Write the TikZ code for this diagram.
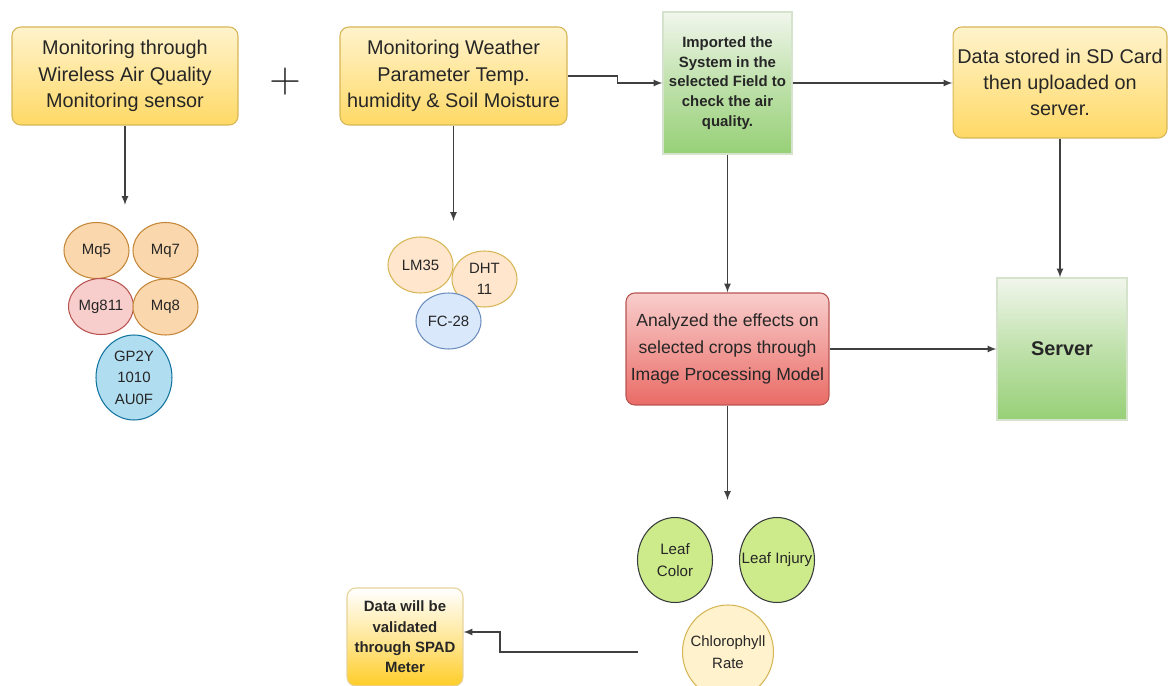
\documentclass[tikz,border=0pt]{standalone}
\usepackage{fontspec}
\setmainfont{Liberation Sans}
\usetikzlibrary{shapes.geometric,arrows}

\definecolor{yelTop}{HTML}{FFF3CC}
\definecolor{yelBot}{HTML}{FFD966}
\definecolor{yelLine}{HTML}{D6B656}
\definecolor{grnTop}{HTML}{F1F6EC}
\definecolor{grnBot}{HTML}{97D077}
\definecolor{grnLine}{HTML}{D5E3CC}
\definecolor{redTop}{HTML}{F8CECC}
\definecolor{redBot}{HTML}{EA6B66}
\definecolor{redLine}{HTML}{B85450}
\definecolor{orgFill}{HTML}{FAD7AC}
\definecolor{orgLine}{HTML}{C4873A}
\definecolor{pnkFill}{HTML}{F8CECC}
\definecolor{bluFill}{HTML}{B1DDF0}
\definecolor{bluLine}{HTML}{10739E}
\definecolor{lbFill}{HTML}{DAE8FC}
\definecolor{lbLine}{HTML}{6C8EBF}
\definecolor{pchFill}{HTML}{FFE6CC}
\definecolor{crmFill}{HTML}{FFF2CC}
\definecolor{leafFill}{HTML}{CDEB8B}
\definecolor{leafLine}{HTML}{36393D}
\definecolor{spadBot}{HTML}{FFCD28}

\begin{document}
\begin{tikzpicture}[x=0.02cm,y=-0.02cm,
        every node/.style={text=black!85},
        yelbox/.style={rectangle,rounded corners=5pt,draw=yelLine,line width=0.6pt,
            top color=yelTop,bottom color=yelBot,align=center,inner sep=0pt,
            font=\fontsize{11.3}{15}\selectfont},
        grnbox/.style={rectangle,draw=grnLine,line width=0.6pt,
            top color=grnTop,bottom color=grnBot,middle color=grnBot!55!grnTop,
            align=center,inner sep=0pt},
        redbox/.style={rectangle,rounded corners=5pt,draw=redLine,line width=0.6pt,
            top color=redTop,bottom color=redBot,align=center,inner sep=0pt,
            font=\fontsize{10}{15.3}\selectfont},
        sensor/.style={ellipse,draw,line width=0.6pt,inner sep=-0.25cm,align=center,
            minimum width=1.3cm,minimum height=1.12cm,
            font=\fontsize{8.5}{12.3}\selectfont},
        leaf/.style={ellipse,draw=leafLine,fill=leafFill,line width=0.6pt,inner sep=-0.25cm,
            align=center,minimum width=1.5cm,minimum height=1.7cm,
            font=\fontsize{8.6}{12.3}\selectfont},
        link/.style={draw=black!75,line width=0.75pt,-latex}]

    \useasboundingbox (0,0) rectangle (1171,686);

    % Top row
    \node[yelbox,minimum width=4.52cm,minimum height=1.96cm] (air) at (125,76)
        {Monitoring through\\Wireless Air Quality\\Monitoring sensor};
    \node[font=\fontsize{28}{28}\selectfont,inner sep=0pt] (plus) at (285,82) {$+$};
    \node[yelbox,minimum width=4.54cm,minimum height=1.96cm] (weather) at (453.5,76)
        {Monitoring Weather\\Parameter Temp.\\humidity \& Soil Moisture};
    \node[grnbox,minimum width=2.58cm,minimum height=2.84cm,
        font=\bfseries\fontsize{8.5}{11.3}\selectfont] (field) at (727.5,83)
        {Imported the\\System in the\\selected Field to\\check the air\\quality.};
    \node[yelbox,minimum width=4.28cm,minimum height=2.22cm] (sd) at (1060,82.5)
        {Data stored in SD Card\\then uploaded on\\server.};

    % Middle row
    \node[redbox,minimum width=4.06cm,minimum height=2.24cm] (model) at (727.5,349)
        {Analyzed the effects on\\selected crops through\\Image Processing Model};
    \node[grnbox,minimum width=2.6cm,minimum height=2.84cm,
        font=\bfseries\fontsize{11.3}{13}\selectfont] (server) at (1062,349) {Server};

    % Air quality sensors
    \node[sensor,draw=orgLine,fill=orgFill] (mq5) at (96.5,250.5) {Mq5};
    \node[sensor,draw=orgLine,fill=orgFill] (mq7) at (165.5,250.5) {Mq7};
    \node[sensor,draw=redLine,fill=pnkFill] (mg811) at (101,306.5) {Mg811};
    \node[sensor,draw=orgLine,fill=orgFill] (mq8) at (165.5,307) {Mq8};
    \node[sensor,draw=bluLine,fill=bluFill,minimum width=1.52cm,minimum height=1.7cm]
        (gp2y) at (134,377.5) {GP2Y\\1010\\AU0F};

    % Weather sensors
    \node[sensor,draw=yelLine,fill=pchFill] (lm35) at (420.5,265) {LM35};
    \node[sensor,draw=yelLine,fill=pchFill] (dht) at (484.5,279) {DHT\\11};
    \node[sensor,draw=lbLine,fill=lbFill] (fc28) at (448.5,321) {FC-28};

    % Crop effects
    \node[leaf] (color) at (675,560) {Leaf\\Color};
    \node[leaf] (injury) at (777,560) {Leaf Injury};
    \node[sensor,draw=yelLine,fill=crmFill,minimum width=1.82cm,minimum height=1.88cm]
        (chloro) at (728,652) {Chlorophyll\\Rate};

    \node[rectangle,rounded corners=5pt,draw=yelLine!60,line width=0.6pt,
        top color=white,bottom color=spadBot,middle color=yelTop!70!spadBot,
        align=center,inner sep=0pt,minimum width=2.32cm,minimum height=1.96cm,
        font=\bfseries\fontsize{8.5}{11.6}\selectfont] (spad) at (405,637)
        {Data will be\\validated\\through SPAD\\Meter};

    % Connectors
    \coordinate (airEnd) at (125,205);
    \coordinate (wthEnd) at (453.5,221);
    \coordinate (leafEnd) at (727.5,500);
    \coordinate (chlStart) at (638,652);
    \coordinate (spadIn) at (463.5,632);

    \draw[link] (air.south) -- (airEnd);
    \draw[link] (weather.south) -- (wthEnd);
    \draw[link] (weather.east) -- ++(50,0) |- (field.west);
    \draw[link] (field.east) -- (field.east -| sd.west);
    \draw[link] (field.south) -- (model.north);
    \draw[link] (sd.south) -- (sd.south |- server.north);
    \draw[link] (model.east) -- (server.west);
    \draw[link] (model.south) -- (leafEnd);
    \draw[link] (chlStart) -- ++(-138,0) |- (spadIn);
\end{tikzpicture}
\end{document}
